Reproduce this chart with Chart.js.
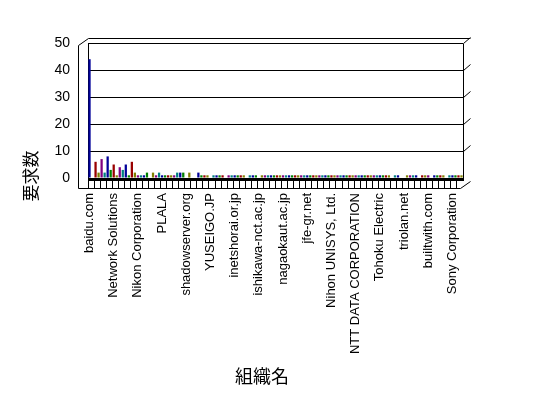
<!DOCTYPE html>
<html>
<head>
<meta charset="utf-8">
<script src="https://cdn.jsdelivr.net/npm/chart.js@4.4.1/dist/chart.umd.min.js"></script>
<style>
  html, body { margin: 0; background: #fff; }
</style>
</head>
<body>
<canvas id="orgChart" width="548" height="398"></canvas>
<script>
// organisation names that are printed on the axis (every 8th bar)
const orgNames = [
  'baidu.com', 'Network Solutions', 'Nikon Corporation', 'PLALA',
  'shadowserver.org', 'YUSEIGO.JP', 'inetshorai.or.jp', 'ishikawa-nct.ac.jp',
  'nagaokaut.ac.jp', 'jfe-gr.net', 'Nihon UNISYS, Ltd.', 'NTT DATA CORPORATION',
  'Tohoku Electric', 'triolan.net', 'builtwith.com', 'Sony Corporation'
];

// request counts, one per organisation
const requests = [
  44, 0, 6, 2, 7, 2, 8, 3, 5, 1, 4, 3, 5, 1, 6, 2,
  1, 1, 1, 2, 0, 2, 1, 2, 1, 1, 1, 1, 1, 2, 2, 2,
  0, 2, 0, 0, 2, 1, 1, 1, 0, 1, 1, 1, 1, 0, 1, 1,
  1, 1, 1, 1, 0, 1, 1, 1, 0, 1, 1, 1, 1, 1, 1, 1,
  1, 1, 1, 1, 1, 1, 1, 1, 1, 1, 1, 1, 1, 1, 1, 1,
  1, 1, 1, 1, 1, 1, 1, 1, 1, 1, 1, 1, 1, 1, 1, 1,
  1, 1, 1, 1, 0, 1, 1, 0, 0, 1, 1, 1, 1, 0, 1, 1,
  1, 0, 1, 1, 1, 1, 0, 1, 1, 1, 1, 1
];

const yTicks = [0, 10, 20, 30, 40, 50];
const xTitle = '組織名';
const yTitle = '要求数';

// only every 8th bar has a readable name
const categories = requests.map((_, i) => (i % 8 === 0 ? orgNames[i / 8] : ''));

const palette = ['#000099', '#008000', '#990000', '#808000', '#800080', '#008080'];
const titleFont = "'Noto Sans CJK JP', sans-serif";

// draws the pseudo 3D walls / floor around the plot, plus the axis titles
const frame3d = {
  id: 'frame3d',
  afterDraw(chart) {
    const { ctx, chartArea: a, scales: { y } } = chart;
    const L = Math.round(a.left) + 0.5, R = Math.round(a.right) + 0.5;
    const T = Math.round(a.top) + 0.5, B = Math.round(a.bottom) + 0.5;
    const line = (x1, y1, x2, y2) => {
      ctx.beginPath(); ctx.moveTo(x1, y1); ctx.lineTo(x2, y2); ctx.stroke();
    };
    ctx.save();
    ctx.strokeStyle = '#000';
    ctx.lineWidth = 1;
    line(L - 10, T + 2, L - 10, B + 10);
    line(L - 10, T + 2, L, T - 5);
    line(L, T - 5, R + 7, T - 5);
    line(R, T, R, B);
    yTicks.forEach(v => {
      if (v === 0) return;
      const py = Math.round(y.getPixelForValue(v)) + 0.5;
      line(R, py, R + 7, py - 6);
    });
    line(L - 10, B + 10, R - 3, B + 10);
    line(R - 3, B + 10, R + 7, B + 3);
    // thick floor edge just under the bars
    ctx.fillStyle = '#000';
    ctx.fillRect(L - 0.5, B - 0.5, R - L + 1, 3);

    // axis titles
    ctx.textAlign = 'center';
    ctx.textBaseline = 'middle';
    ctx.font = '18px ' + titleFont;
    ctx.fillText(xTitle, 262, 376);
    ctx.translate(31, 176);
    ctx.rotate(-Math.PI / 2);
    ctx.font = '17px ' + titleFont;
    ctx.fillText(yTitle, 0, 0);
    ctx.restore();
  }
};

new Chart(document.getElementById('orgChart'), {
  type: 'bar',
  data: {
    labels: categories,
    datasets: [{
      data: requests,
      backgroundColor: requests.map((_, i) => palette[i % palette.length]),
      borderWidth: 0,
      barPercentage: 0.75,
      categoryPercentage: 1.0
    }]
  },
  options: {
    responsive: false,
    animation: false,
    layout: { padding: { left: 0, top: 43, right: 85, bottom: 0 } },
    plugins: { legend: { display: false }, tooltip: { enabled: false } },
    scales: {
      x: {
        afterFit: s => { s.height = 220; },
        border: { display: false },
        grid: {
          drawOnChartArea: false,
          tickLength: 10,
          color: ctx => (ctx.index % 2 === 0 ? '#000' : 'rgba(0,0,0,0)')
        },
        ticks: {
          autoSkip: false,
          minRotation: 90,
          maxRotation: 90,
          padding: 5,
          color: '#000',
          font: { family: "'Liberation Sans', Arial, sans-serif", size: 13 }
        }
      },
      y: {
        min: 0,
        max: 50,
        afterFit: s => { s.width = 88; },
        afterBuildTicks: s => { s.ticks = yTicks.map(v => ({ value: v })); },
        border: { display: true, color: '#000', width: 1 },
        grid: {
          drawTicks: false,
          color: '#000',
          lineWidth: 1
        },
        ticks: {
          padding: 18,
          color: '#000',
          font: { family: "'Liberation Sans', Arial, sans-serif", size: 14 }
        }
      }
    }
  },
  plugins: [frame3d]
});
</script>
</body>
</html>
